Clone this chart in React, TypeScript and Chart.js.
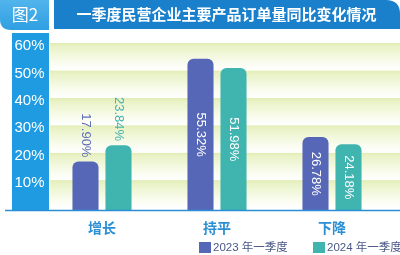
import React, { useEffect, useRef } from "react";
import { Chart, registerables } from "chart.js";

Chart.register(...registerables);

const figureLabel = "图2";
const chartTitle = "一季度民营企业主要产品订单量同比变化情况";
const categories = ["增长", "持平", "下降"];
const seriesNames = ["2023 年一季度", "2024 年一季度"];
const values2023 = [17.9, 55.32, 26.78];
const values2024 = [23.84, 51.98, 24.18];
const yTickValues = [10, 20, 30, 40, 50, 60];
const yMax = 64;

const BLUE_BAR = "#5767B8";
const TEAL_BAR = "#40B4AF";
const LATIN = "'Liberation Sans', Arial, sans-serif";
const CJK = "'Noto Sans CJK SC', 'Liberation Sans', sans-serif";
const MIXED = "'Liberation Sans', 'Noto Sans CJK SC', sans-serif";

function roundRectPath(ctx: CanvasRenderingContext2D, x: number, y: number, w: number, h: number, r: { tl: number; tr: number; br: number; bl: number }) {
  ctx.beginPath();
  ctx.moveTo(x + r.tl, y);
  ctx.lineTo(x + w - r.tr, y);
  ctx.quadraticCurveTo(x + w, y, x + w, y + r.tr);
  ctx.lineTo(x + w, y + h - r.br);
  ctx.quadraticCurveTo(x + w, y + h, x + w - r.br, y + h);
  ctx.lineTo(x + r.bl, y + h);
  ctx.quadraticCurveTo(x, y + h, x, y + h - r.bl);
  ctx.lineTo(x, y + r.tl);
  ctx.quadraticCurveTo(x, y, x + r.tl, y);
  ctx.closePath();
}

const backgroundPlugin = {
  id: "bgDecor",
  beforeDraw(chart: any) {
    const ctx: CanvasRenderingContext2D = chart.ctx;
    const W = chart.width;
    const yScale = chart.scales.y;
    ctx.save();
    ctx.fillStyle = "#ffffff";
    ctx.fillRect(0, 0, W, chart.height);

    const g1 = ctx.createLinearGradient(0, 0, 0, 30);
    g1.addColorStop(0, "#52B4EC");
    g1.addColorStop(1, "#2E9FE2");
    ctx.fillStyle = g1;
    roundRectPath(ctx, 0, 0, 49, 30, { tl: 0, tr: 0, br: 0, bl: 11 });
    ctx.fill();

    ctx.fillStyle = "#1A80CC";
    roundRectPath(ctx, 54, 0, W - 54, 29, { tl: 0, tr: 14, br: 0, bl: 0 });
    ctx.fill();

    const base = yScale.getPixelForValue(0);
    ctx.fillStyle = "#1E9BE1";
    ctx.fillRect(12, 33, 37, base - 33);

    for (const v of yTickValues) {
      const top = yScale.getPixelForValue(v) - 3;
      const bottom = Math.min(yScale.getPixelForValue(v - 10) - 3, base);
      const g = ctx.createLinearGradient(0, top, 0, bottom);
      g.addColorStop(0, "#E0ECB2");
      g.addColorStop(0.12, "#E9F2C6");
      g.addColorStop(0.7, "#F9FCEE");
      g.addColorStop(1, "#FFFFFF");
      ctx.fillStyle = g;
      ctx.fillRect(50, top, W - 50, bottom - top);
    }
    ctx.restore();
  },
  afterDatasetsDraw(chart: any) {
    const ctx: CanvasRenderingContext2D = chart.ctx;
    const yScale = chart.scales.y;
    const base = yScale.getPixelForValue(0);
    ctx.save();
    chart.data.datasets.forEach((ds: any, di: number) => {
      const meta = chart.getDatasetMeta(di);
      meta.data.forEach((bar: any, i: number) => {
        const v = ds.data[i];
        const text = v.toFixed(2) + "%";
        ctx.save();
        ctx.font = `13px ${LATIN}`;
        ctx.textBaseline = "middle";
        if (i === 0) {
          ctx.translate(bar.x, bar.y - 4);
          ctx.rotate(Math.PI / 2);
          ctx.textAlign = "right";
          ctx.fillStyle = di === 0 ? "#5F6FB6" : "#45B3AE";
        } else {
          ctx.translate(bar.x, (bar.y + bar.base) / 2);
          ctx.rotate(Math.PI / 2);
          ctx.textAlign = "center";
          ctx.fillStyle = "#ffffff";
        }
        ctx.fillText(text, 0, 0);
        ctx.restore();
      });
    });
    ctx.strokeStyle = "#2A8ED6";
    ctx.lineWidth = 1.5;
    ctx.beginPath();
    ctx.moveTo(5, base);
    ctx.lineTo(chart.width, base);
    ctx.stroke();
    ctx.restore();
  },
  afterDraw(chart: any) {
    const ctx: CanvasRenderingContext2D = chart.ctx;
    ctx.save();
    ctx.fillStyle = "#ffffff";
    ctx.textBaseline = "middle";
    ctx.textAlign = "center";
    ctx.font = `17px ${CJK}`;
    ctx.fillText(figureLabel, 25, 15);
    ctx.font = `bold 15px ${CJK}`;
    ctx.fillText(chartTitle, 226.5, 14.5);

    const itemX = [199, 313];
    const cy = 247.5;
    chart.data.datasets.forEach((ds: any, di: number) => {
      const x = itemX[di];
      ctx.fillStyle = ds.backgroundColor;
      ctx.fillRect(x, cy - 5.5, 12, 11);
      ctx.fillStyle = "#4B5886";
      ctx.textAlign = "left";
      ctx.font = `11.5px ${MIXED}`;
      ctx.fillText(ds.label, x + 14, cy);
    });
    ctx.restore();
  },
};

export default function App() {
  const canvasRef = useRef<HTMLCanvasElement | null>(null);

  useEffect(() => {
    document.body.style.margin = "0";
    const canvas = canvasRef.current;
    if (!canvas) return;
    const chart = new Chart(canvas, {
      type: "bar",
      data: {
        labels: categories,
        datasets: [
          {
            label: seriesNames[0],
            data: values2023,
            backgroundColor: BLUE_BAR,
            borderRadius: 6,
            borderSkipped: "start",
            categoryPercentage: 0.574,
            barPercentage: 0.79,
          },
          {
            label: seriesNames[1],
            data: values2024,
            backgroundColor: TEAL_BAR,
            borderRadius: 6,
            borderSkipped: "start",
            categoryPercentage: 0.574,
            barPercentage: 0.79,
          },
        ],
      },
      options: {
        animation: false,
        responsive: false,
        maintainAspectRatio: false,
        devicePixelRatio: 1,
        layout: { padding: { left: 0, right: 10.5, top: 35, bottom: 0 } },
        plugins: {
          legend: { display: false },
          title: { display: false },
          tooltip: { enabled: false },
        },
        scales: {
          x: {
            type: "category",
            grid: { display: false, drawTicks: false },
            border: { display: false },
            ticks: {
              color: "#2B8FD5",
              font: { family: CJK, size: 14, weight: "bold" },
              padding: 9,
            },
            afterFit: (scale: any) => {
              scale.height = 44.5;
            },
          },
          y: {
            type: "linear",
            min: 0,
            max: yMax,
            grid: { display: false, drawTicks: false },
            border: { display: false },
            ticks: {
              color: "#ffffff",
              font: { family: LATIN, size: 15 },
              padding: 0,
              callback: (v: any) => v + "%",
            },
            afterBuildTicks: (scale: any) => {
              scale.ticks = yTickValues.map((v) => ({ value: v }));
            },
            afterFit: (scale: any) => {
              scale.width = 44.5;
            },
          },
        },
      },
      plugins: [backgroundPlugin],
    });
    return () => chart.destroy();
  }, []);

  return (
    <div style={{ width: 400, height: 255 }}>
      <canvas ref={canvasRef} width={400} height={255} style={{ display: "block", width: 400, height: 255 }} />
    </div>
  );
}
